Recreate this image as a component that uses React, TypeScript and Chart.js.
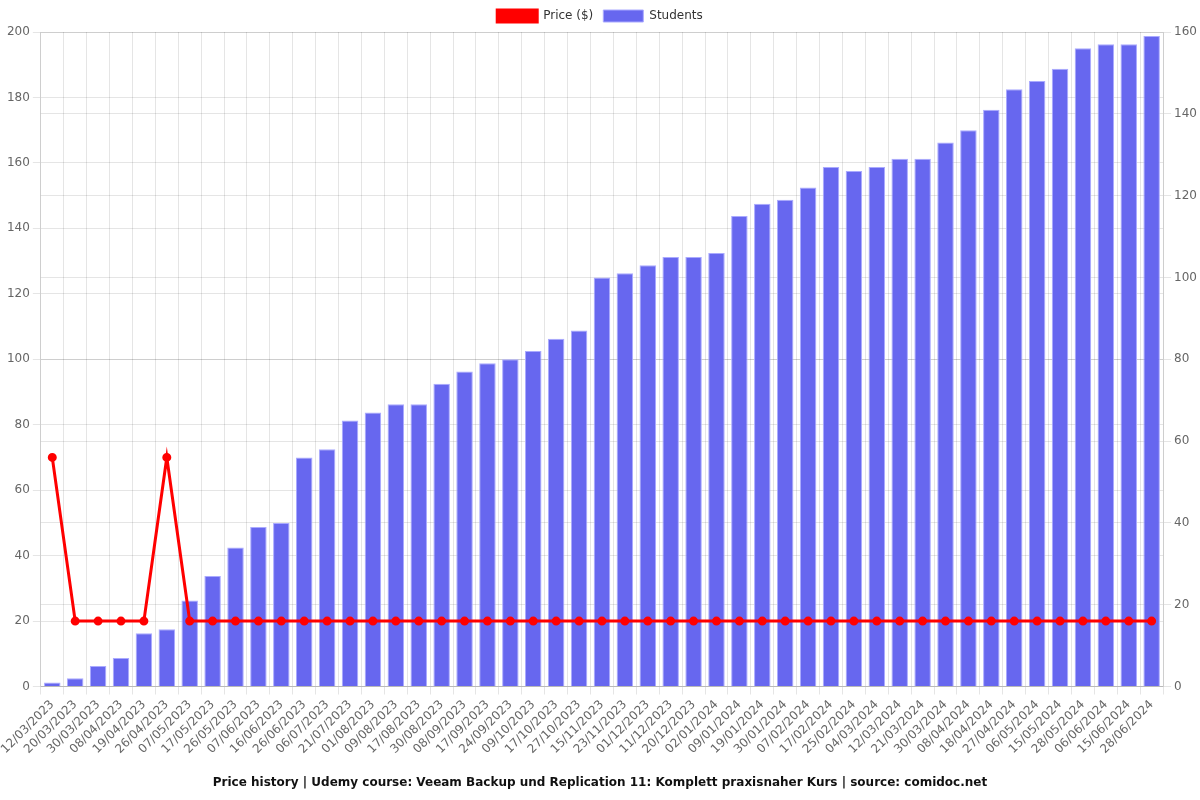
import React, { useEffect, useRef } from "react";
import { Chart, registerables } from "chart.js";

Chart.register(...registerables);

const labels = [
  "12/03/2023", "20/03/2023", "30/03/2023", "08/04/2023", "19/04/2023", "26/04/2023",
  "07/05/2023", "17/05/2023", "26/05/2023", "07/06/2023", "16/06/2023", "26/06/2023",
  "06/07/2023", "21/07/2023", "01/08/2023", "09/08/2023", "17/08/2023", "30/08/2023",
  "08/09/2023", "17/09/2023", "24/09/2023", "09/10/2023", "17/10/2023", "27/10/2023",
  "15/11/2023", "23/11/2023", "01/12/2023", "11/12/2023", "20/12/2023", "02/01/2024",
  "09/01/2024", "19/01/2024", "30/01/2024", "07/02/2024", "17/02/2024", "25/02/2024",
  "04/03/2024", "12/03/2024", "21/03/2024", "30/03/2024", "08/04/2024", "18/04/2024",
  "27/04/2024", "06/05/2024", "15/05/2024", "28/05/2024", "06/06/2024", "15/06/2024",
  "28/06/2024",
];

const price = [
  70, 20, 20, 20, 20, 70, 20, 20, 20, 20, 20, 20, 20, 20, 20, 20, 20, 20, 20, 20,
  20, 20, 20, 20, 20, 20, 20, 20, 20, 20, 20, 20, 20, 20, 20, 20, 20, 20, 20, 20,
  20, 20, 20, 20, 20, 20, 20, 20, 20,
];

const students = [
  1, 2, 5, 7, 13, 14, 21, 27, 34, 39, 40, 56, 58, 65, 67, 69, 69, 74, 77, 79,
  80, 82, 85, 87, 100, 101, 103, 105, 105, 106, 115, 118, 119, 122, 127, 126, 127, 129, 129, 133,
  136, 141, 146, 148, 151, 156, 157, 157, 159,
];

const titleText =
  "Price history | Udemy course: Veeam Backup und Replication 11: Komplett praxisnaher Kurs | source: comidoc.net";

export default function App() {
  const ref = useRef<HTMLCanvasElement>(null);
  useEffect(() => {
    if (!ref.current) return;
    Chart.defaults.font.family = "'DejaVu Sans', sans-serif";
    Chart.defaults.color = "#666";
    const chart = new Chart(ref.current, {
      type: "bar",
      data: {
        labels,
        datasets: [
          {
            type: "line",
            label: "Price ($)",
            data: price,
            borderColor: "#ff0000",
            backgroundColor: "#ff0000",
            borderWidth: 3,
            pointRadius: 3,
            pointBackgroundColor: "#ff0000",
            yAxisID: "y",
            order: 0,
          } as any,
          {
            type: "bar",
            label: "Students",
            data: students,
            backgroundColor: "#6767ef",
            borderColor: "rgba(170,170,255,1)",
            borderWidth: 1,
            yAxisID: "y1",
            order: 1,
          },
        ],
      },
      options: {
        responsive: true,
        maintainAspectRatio: false,
        animation: false,
        plugins: {
          legend: {
            position: "top",
            labels: { font: { size: 12 }, color: "#333", boxWidth: 40 },
          },
          title: {
            display: true,
            position: "bottom",
            text: titleText,
            color: "#111",
            font: { size: 12, weight: "bold" },
            padding: { top: 16, bottom: 10 },
          },
        },
        scales: {
          x: {
            ticks: { autoSkip: false, minRotation: 45, maxRotation: 45, font: { size: 12 } },
            grid: { color: "rgba(0,0,0,0.1)" },
          },
          y: {
            position: "left",
            min: 0,
            max: 200,
            ticks: { stepSize: 20, font: { size: 12 } },
            grid: { color: "rgba(0,0,0,0.1)" },
          },
          y1: {
            position: "right",
            min: 0,
            max: 160,
            ticks: { stepSize: 20, font: { size: 12 } },
            grid: { color: "rgba(0,0,0,0.1)" },
          },
        },
      },
    });
    return () => chart.destroy();
  }, []);
  return (
    <div style={{ position: "fixed", left: 0, top: 0, width: 1200, height: 800 }}>
      <canvas ref={ref} />
    </div>
  );
}
